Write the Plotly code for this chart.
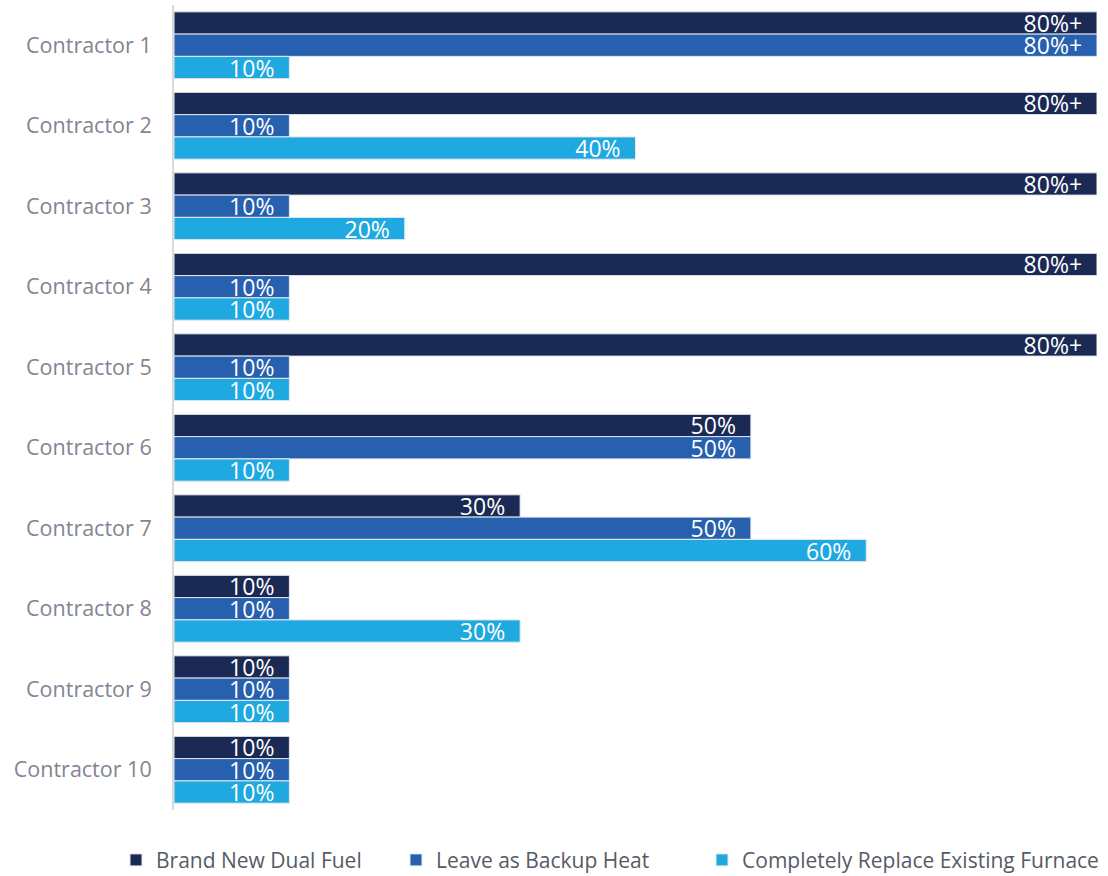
import plotly.graph_objects as go

categories = [f"Contractor {i}" for i in range(1, 11)]
series_names = ["Brand New Dual Fuel", "Leave as Backup Heat", "Completely Replace Existing Furnace"]
brand_new = [80, 80, 80, 80, 80, 50, 30, 10, 10, 10]
backup = [80, 10, 10, 10, 10, 50, 50, 10, 10, 10]
replace = [10, 40, 20, 10, 10, 10, 60, 30, 10, 10]
colors = ["#1b2a54", "#2660ae", "#1fa9e0"]
legend_ids = ["legend", "legend2", "legend3"]
legend_x = [0.1047, 0.3574, 0.6336]

def label(v):
    return (f"{v}%+" if v >= 80 else f"{v}%") + "\u00a0\u00a0"

fig = go.Figure()
for name, vals, col, lid in zip(series_names, [brand_new, backup, replace], colors, legend_ids):
    fig.add_trace(go.Bar(
        y=categories, x=vals, name=name, orientation="h", legend=lid,
        marker=dict(color=col, line=dict(color="#e6e9ef", width=1)),
        text=[label(v) for v in vals], textposition="inside",
        insidetextanchor="end", constraintext="none",
        textfont=dict(color="white", size=23, family="Open Sans"),
        hoverinfo="skip",
    ))

legend_common = dict(orientation="h", xref="container", xanchor="left",
                     yref="container", y=0.018, yanchor="middle",
                     font=dict(size=21, color="#555b66"), itemwidth=30,
                     bgcolor="rgba(0,0,0,0)")

fig.update_layout(
    width=1108, height=876,
    barmode="group", bargap=0.17, bargroupgap=0,
    plot_bgcolor="white", paper_bgcolor="white",
    margin=dict(l=174, r=11, t=5, b=66, autoexpand=False),
    font=dict(family="Open Sans", color="#7f8593", size=21),
    xaxis=dict(range=[0, 80], visible=False),
    yaxis=dict(autorange="reversed", showline=True, linecolor="#d9d9d9", linewidth=2,
               ticks="", ticklabelstandoff=16, tickfont=dict(size=21.5, color="#7f8593"),
               showgrid=False),
    legend=dict(x=legend_x[0], **legend_common),
    legend2=dict(x=legend_x[1], **legend_common),
    legend3=dict(x=legend_x[2], **legend_common),
    showlegend=True,
)

fig.write_html("out.html")
